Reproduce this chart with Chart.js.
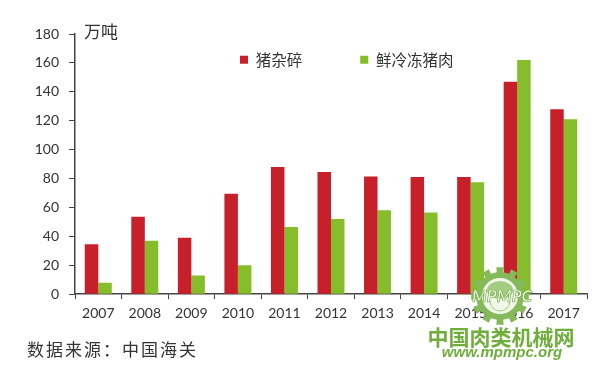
<!DOCTYPE html>
<html>
<head>
<meta charset="utf-8">
<style>
  html, body { margin: 0; padding: 0; background: #fff; }
  #wrap { width: 600px; height: 373px; }
</style>
<script src="https://cdn.jsdelivr.net/npm/chart.js@4"></script>
</head>
<body>
<div id="wrap"><canvas id="myChart" width="600" height="373"></canvas></div>
<script>
var years = ["2007", "2008", "2009", "2010", "2011", "2012", "2013", "2014", "2015", "2016", "2017"];
var offal = [34.5, 53.5, 39, 69.5, 88, 84.5, 81.5, 81, 81, 147, 128];
var pork = [8, 37, 13, 20, 46.5, 52, 58, 56.5, 77.5, 162, 121];
var seriesNames = ["猪杂碎", "鲜冷冻猪肉"];
var unitLabel = "万吨";
var sourceLabel = "数据来源：中国海关";
var siteName = "中国肉类机械网";
var siteUrl = "www.mpmpc.org";

var cjk = '"Noto Sans CJK SC", sans-serif';
var latin = 'Lato, "Noto Sans", sans-serif';
var wmGreen = '#6fae3c';

// legend sits inside the plot, so it must not take any layout space
var legendMove = {
  id: 'legendMove',
  beforeLayout: function (chart) {
    var legend = chart.legend;
    if (!legend.origFit) {
      legend.origFit = legend.fit;
      legend.fit = function () {
        this.origFit();
        this.height = 0;
      };
    }
  },
  afterLayout: function (chart) {
    chart.legend.left = 182;
    chart.legend.right = 600;
    chart.legend.top = -6;
    chart.legend.bottom = 100; // the legend clips itself to this box
  }
};

// text that is not part of the axes, plus the watermark gear on top
var extras = {
  id: 'extras',
  afterDraw: function (chart) {
    var c = chart.ctx;
    c.save();
    c.textBaseline = 'middle';
    c.fillStyle = '#333';
    c.font = '17px ' + cjk;
    c.fillText(unitLabel, 84, 32);
    c.font = '17px ' + cjk;
    c.letterSpacing = '2px';
    c.fillText(sourceLabel, 27, 350);
    c.letterSpacing = '0px';

    // gear
    var gx = 500, gy = 296;
    c.fillStyle = '#85b95a';
    c.beginPath();
    for (var i = 0; i < 24; i++) {
      var a = i / 24 * Math.PI * 2;
      var r = (i % 2 == 0) ? 29 : 24;
      c.lineTo(gx + Math.cos(a - 0.13) * r, gy + Math.sin(a - 0.13) * r);
      c.lineTo(gx + Math.cos(a + 0.13) * r, gy + Math.sin(a + 0.13) * r);
    }
    c.closePath();
    c.fill();
    c.fillStyle = '#f1f6ea';
    c.beginPath();
    c.arc(gx, gy, 18, 0, Math.PI * 2);
    c.fill();
    c.fillStyle = '#a3cc80';
    c.beginPath();
    c.ellipse(gx, gy - 6, 13, 9, 0, 0, Math.PI * 2);
    c.fill();
    c.strokeStyle = '#a3cc80';
    c.lineWidth = 1;
    c.beginPath();
    c.arc(gx, gy + 5, 10, 0, Math.PI);
    c.stroke();

    c.textAlign = 'center';
    c.font = 'italic bold 17px ' + latin;
    c.fillStyle = '#fff';
    c.fillText('MPMPC', gx + 2, gy + 1);
    c.lineWidth = 0.7;
    c.strokeStyle = wmGreen;
    c.strokeText('MPMPC', gx + 2, gy + 1);

    c.fillStyle = wmGreen;
    c.font = 'bold 21px ' + cjk;
    c.fillText(siteName, 501, 337);
    c.font = 'italic bold 15px "Liberation Sans", sans-serif';
    c.fillText(siteUrl, 502, 353);
    c.restore();
  }
};

var ctx = document.getElementById('myChart').getContext('2d');
var chart = new Chart(ctx, {
  type: 'bar',
  data: {
    labels: years,
    datasets: [
      { label: seriesNames[0], data: offal, backgroundColor: '#c8202a' },
      { label: seriesNames[1], data: pork, backgroundColor: '#86bd2a' }
    ]
  },
  options: {
    responsive: false,
    animation: false,
    layout: { padding: { left: 30, right: 13, top: 34, bottom: 45 } },
    datasets: { bar: { categoryPercentage: 0.58, barPercentage: 1 } },
    plugins: {
      title: { display: false },
      tooltip: { enabled: false },
      legend: {
        position: 'top',
        align: 'start',
        labels: {
          boxWidth: 8,
          boxHeight: 8,
          padding: 58,
          color: '#333',
          font: { family: cjk, size: 15.5 }
        }
      }
    },
    scales: {
      x: {
        border: { color: '#444', width: 1.5 },
        grid: { drawOnChartArea: false, drawTicks: true, tickLength: 5, color: '#444' },
        ticks: { color: '#333', padding: 6, maxRotation: 0, font: { family: latin, size: 14 } }
      },
      y: {
        min: 0,
        max: 180,
        afterFit: function (axis) { axis.width = 45; },
        border: { color: '#444', width: 1.5 },
        grid: { drawOnChartArea: false, drawTicks: true, tickLength: 6, color: '#444' },
        ticks: { stepSize: 20, color: '#333', padding: 10, font: { family: latin, size: 14 } }
      }
    }
  },
  plugins: [legendMove, extras]
});
</script>
</body>
</html>
